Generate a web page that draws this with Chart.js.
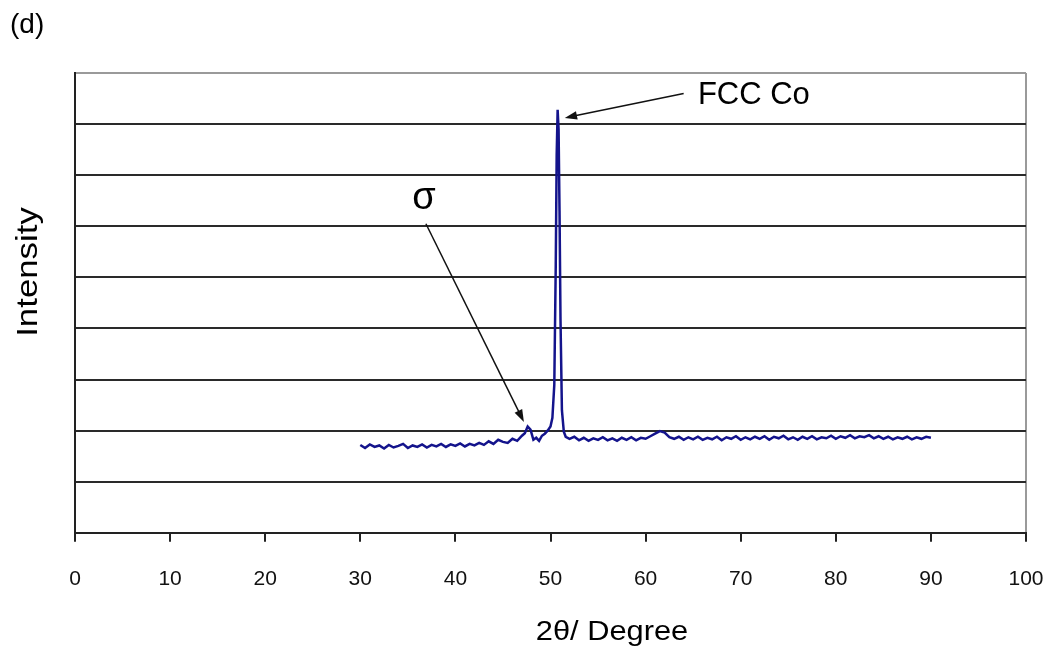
<!DOCTYPE html>
<html>
<head>
<meta charset="utf-8">
<script src="https://cdn.jsdelivr.net/npm/chart.js@4"></script>
<style>
	body { margin: 0; background: #fff; }
	#xrd-chart { display: block; }
</style>
</head>
<body>
<canvas id="xrd-chart" width="1055" height="658"></canvas>
<script>
// 2theta positions (degrees) and the measured intensity (arbitrary units, 1 unit = 1 gridline)
const twoTheta = [
	30, 30.5, 31, 31.5, 32, 32.5, 33, 33.5, 34, 34.5,
	35, 35.5, 36, 36.5, 37, 37.5, 38, 38.5, 39, 39.5,
	40, 40.5, 41, 41.5, 42, 42.5, 43, 43.5, 44, 44.5,
	45, 45.5, 46, 46.5,
	47, 47.3, 47.6, 47.9, 48.2, 48.5, 48.8, 49.1, 49.4, 49.7,
	50, 50.2, 50.4, 50.55, 50.65, 50.75, 50.85, 50.95, 51.05, 51.2,
	51.4, 51.6,
	52, 52.5, 53, 53.5, 54, 54.5, 55, 55.5, 56, 56.5,
	57, 57.5, 58, 58.5, 59, 59.5, 60, 60.5, 61, 61.5,
	62, 62.5, 63, 63.5, 64, 64.5, 65, 65.5, 66, 66.5,
	67, 67.5, 68, 68.5, 69, 69.5, 70, 70.5, 71, 71.5,
	72, 72.5, 73, 73.5, 74, 74.5, 75, 75.5, 76, 76.5,
	77, 77.5, 78, 78.5, 79, 79.5, 80, 80.5, 81, 81.5,
	82, 82.5, 83, 83.5, 84, 84.5, 85, 85.5, 86, 86.5,
	87, 87.5, 88, 88.5, 89, 89.5, 90
];

const intensity = [
	1.72, 1.66, 1.73, 1.68, 1.71, 1.65, 1.72, 1.67, 1.70, 1.74,
	1.66, 1.71, 1.68, 1.73, 1.67, 1.72, 1.69, 1.74, 1.68, 1.73,
	1.70, 1.75, 1.69, 1.74, 1.71, 1.76, 1.72, 1.79, 1.74, 1.82,
	1.78, 1.76, 1.84, 1.80,
	1.90, 1.95, 2.08, 2.02, 1.82, 1.86, 1.80, 1.90, 1.94, 2.00,
	2.08, 2.25, 2.90, 5.20, 7.40, 8.28, 7.90, 6.30, 4.20, 2.40,
	1.98, 1.88,
	1.84, 1.88, 1.81, 1.86, 1.80, 1.85, 1.82, 1.87, 1.81, 1.85,
	1.80, 1.86, 1.82, 1.87, 1.81, 1.86, 1.84, 1.89, 1.94, 1.99,
	1.96, 1.87, 1.84, 1.88, 1.82, 1.87, 1.83, 1.88, 1.82, 1.86,
	1.83, 1.88, 1.81, 1.87, 1.84, 1.89, 1.82, 1.87, 1.83, 1.88,
	1.84, 1.89, 1.82, 1.88, 1.85, 1.90, 1.83, 1.87, 1.82, 1.88,
	1.84, 1.89, 1.83, 1.87, 1.85, 1.90, 1.84, 1.89, 1.86, 1.91,
	1.85, 1.89, 1.87, 1.91, 1.85, 1.89, 1.84, 1.88, 1.83, 1.87,
	1.84, 1.88, 1.83, 1.87, 1.84, 1.88, 1.86
];

const xTicks = [0, 10, 20, 30, 40, 50, 60, 70, 80, 90, 100];

// peak labels: text position, font size and arrow (from -> to), positions in data units
const peakNotes = [
	{ text: 'σ', size: 38, at: [36.7, 6.55], from: [36.9, 6.05], to: [47.2, 2.17] },
	{ text: 'FCC Co', size: 31, at: [65.5, 8.57], from: [64.0, 8.6], to: [51.5, 8.12] },
];

const FONT = '"Liberation Sans", Arial, sans-serif';

function drawArrow(ctx, x1, y1, x2, y2) {
	const angle = Math.atan2(y2 - y1, x2 - x1);
	const head = 13;

	ctx.save();
	ctx.strokeStyle = '#111';
	ctx.fillStyle = '#111';
	ctx.lineWidth = 1.5;
	ctx.beginPath();
	ctx.moveTo(x1, y1);
	ctx.lineTo(x2 - Math.cos(angle) * head * 0.8, y2 - Math.sin(angle) * head * 0.8);
	ctx.stroke();

	ctx.beginPath();
	ctx.moveTo(x2, y2);
	ctx.lineTo(x2 - head * Math.cos(angle - 0.33), y2 - head * Math.sin(angle - 0.33));
	ctx.lineTo(x2 - head * Math.cos(angle + 0.33), y2 - head * Math.sin(angle + 0.33));
	ctx.closePath();
	ctx.fill();
	ctx.restore();
}

// stretched text, the original figure was scaled a bit along its labels
function drawStretched(ctx, text, x, y, font, stretch, rotate = 0) {
	ctx.save();
	ctx.translate(x, y);
	ctx.rotate(rotate);
	ctx.scale(stretch, 1);
	ctx.font = font;
	ctx.fillStyle = '#000';
	ctx.textAlign = 'center';
	ctx.textBaseline = 'middle';
	ctx.fillText(text, 0, 0);
	ctx.restore();
}

const annotationPlugin = {
	id: 'annotations',
	afterDatasetsDraw(chart) {
		const { ctx, scales: { x, y } } = chart;

		peakNotes.forEach(note => {
			drawArrow(ctx,
				x.getPixelForValue(note.from[0]), y.getPixelForValue(note.from[1]),
				x.getPixelForValue(note.to[0]), y.getPixelForValue(note.to[1]));

			ctx.save();
			ctx.font = `${note.size}px ${FONT}`;
			ctx.fillStyle = '#000';
			ctx.textBaseline = 'middle';
			ctx.textAlign = note.text === 'σ' ? 'center' : 'left';
			ctx.fillText(note.text, x.getPixelForValue(note.at[0]), y.getPixelForValue(note.at[1]));
			ctx.restore();
		});

		// panel letter and axis titles
		ctx.save();
		ctx.font = `28px ${FONT}`;
		ctx.fillStyle = '#000';
		ctx.textBaseline = 'middle';
		ctx.fillText('(d)', 10, 25);
		ctx.restore();

		drawStretched(ctx, '2θ/ Degree', 612, 632, `28px ${FONT}`, 1.1);
		drawStretched(ctx, 'Intensity', 29, 272, `29px ${FONT}`, 1.2, -Math.PI / 2);
	}
};

new Chart(document.querySelector('#xrd-chart'), {
	type: 'line',
	data: {
		datasets: [{
			label: 'XRD',
			data: twoTheta.map((t, i) => ({ x: t, y: intensity[i] })),
			borderColor: '#14148c',
			borderWidth: 2.5,
			pointRadius: 0,
			tension: 0,
			fill: false,
		}],
	},
	options: {
		responsive: false,
		animation: false,
		layout: {
			padding: { left: 75, top: 73, right: 29, bottom: 41 },
		},
		scales: {
			x: {
				type: 'linear',
				min: 0,
				max: 100,
				afterBuildTicks: axis => {
					axis.ticks = xTicks.map(value => ({ value }));
				},
				// the "100" label may hang over the right edge, don't let it shrink the plot
				afterFit: axis => {
					axis.paddingLeft = 0;
					axis.paddingRight = 0;
				},
				grid: {
					color: ctx => (ctx.tick && ctx.tick.value === 100 ? '#9a9a9a' : 'rgba(0,0,0,0)'),
					tickColor: '#222',
					lineWidth: 2,
					tickLength: 9,
				},
				border: { color: '#222', width: 2 },
				ticks: {
					color: '#111',
					font: { family: FONT, size: 21 },
					padding: 25,
					maxRotation: 0,
				},
			},
			y: {
				min: 0,
				max: 9,
				ticks: { display: false, stepSize: 1 },
				grid: {
					color: ctx => (ctx.tick && ctx.tick.value === 9 ? '#9a9a9a' : '#2a2a2a'),
					lineWidth: 2,
					drawTicks: false,
				},
				border: { color: '#222', width: 2 },
			},
		},
		plugins: {
			legend: { display: false },
			tooltip: { enabled: false },
		},
	},
	plugins: [annotationPlugin],
});
</script>
</body>
</html>
